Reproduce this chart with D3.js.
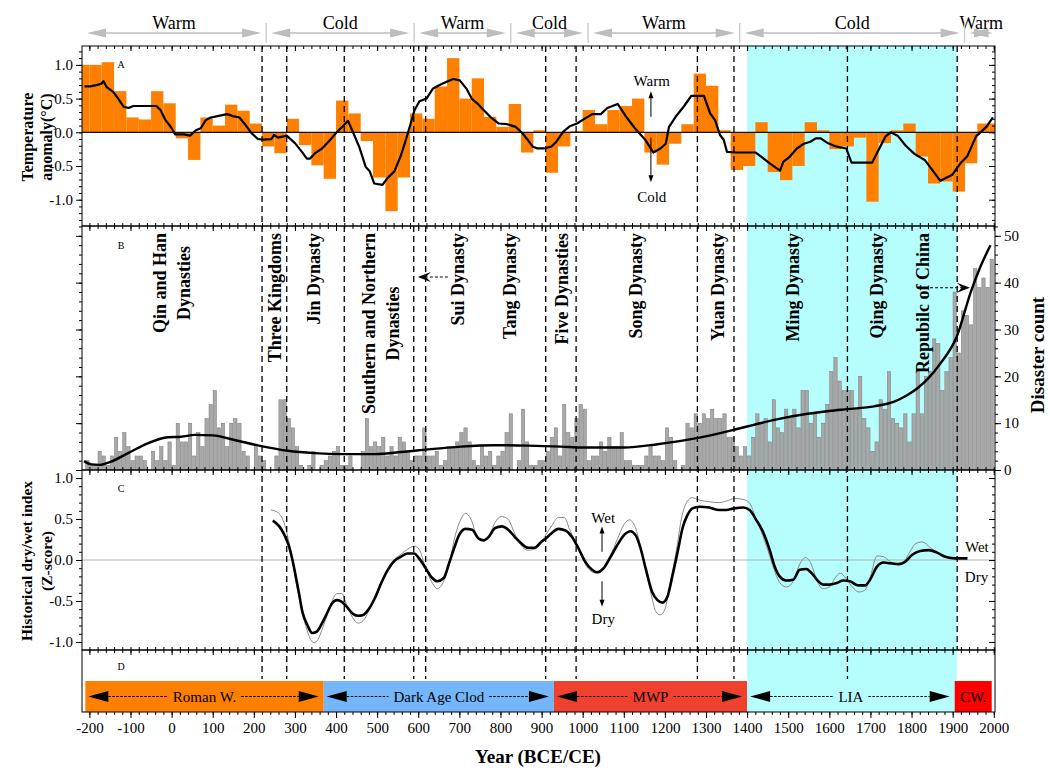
<!DOCTYPE html>
<html>
<head>
<meta charset="utf-8">
<script src="https://cdn.jsdelivr.net/npm/d3@7"></script>
<style>
  body { margin: 0; background: #fff; }
  svg { font-family: "Liberation Serif", "Times New Roman", serif; }
</style>
</head>
<body>
<div id="chart"></div>
<script>
// ---------- data ----------
// top row: warm / cold periods
const climateLabels = ["Warm", "Cold", "Warm", "Cold", "Warm", "Cold", "Warm"];
const climateBounds = [-218, 230, 590, 825, 1013, 1382, 1929, 2010];

// dynasty boundaries (dashed lines)
const dynastyLines = [220, 280, 420, 589, 618, 910, 984, 1279, 1368, 1644, 1911];
const cyanRange = [1400, 1910];

// panel A: 30-year temperature anomaly bars (start year) and smoothed curve
const tempBinStart = d3.range(-230, 2000, 30);
const tempBinValue = [1.0, 1.0, 1.04, 0.61, 0.22, 0.19, 0.61, 0.43, -0.09, -0.41,
  0.22, 0.10, 0.41, 0.32, 0.13, -0.21, -0.31, 0.20, -0.19, -0.49,
  -0.69, 0.47, 0.28, -0.13, -0.67, -1.17, -0.67, 0.28, 0.20, 0.68,
  1.10, 0.50, 0.80, 0.23, 0.08, 0.42, -0.30, 0.03, -0.60, -0.21,
  0.02, 0.33, 0.12, 0.33, 0.39, 0.50, -0.30, -0.48, -0.17, 0.12,
  0.87, 0.69, 0.03, -0.56, -0.50, 0.15, -0.59, -0.71, -0.50, 0.15,
  0.03, -0.25, -0.21, -0.08, -1.03, -0.16, 0.03, 0.13, -0.36, -0.76,
  -0.73, -0.88, -0.46, 0.13, 0.13];

const tempLineYear = [-212, -198, -183, -171, -166, -158, -142, -130, -117, -105, -93, -68, -37, -27, -15, -3, 9, 30, 45, 59,
  71, 83, 95, 112, 135, 149, 165, 177, 194, 210, 222, 243, 249, 259, 280, 300, 317, 329, 337, 349,
  366, 386, 403, 415, 429, 440, 456, 472, 482, 493, 513, 525, 542, 558, 570, 583, 591, 603, 620, 636,
  652, 669, 685, 701, 718, 730, 747, 759, 775, 796, 816, 837, 853, 866, 878, 890, 907, 924, 936, 953,
  969, 986, 1007, 1023, 1044, 1060, 1085, 1106, 1127, 1152, 1172, 1189, 1202, 1210, 1226, 1247, 1264, 1295, 1310, 1322,
  1334, 1343, 1351, 1372, 1421, 1434, 1455, 1480, 1488, 1504, 1521, 1538, 1554, 1567, 1579, 1596, 1616, 1641, 1654, 1704,
  1720, 1737, 1749, 1766, 1786, 1807, 1832, 1853, 1870, 1899, 1919, 1936, 1957, 1982, 1998];
const tempLineValue = [0.68, 0.68, 0.70, 0.72, 0.76, 0.67, 0.60, 0.50, 0.38, 0.36, 0.39, 0.39, 0.39, 0.33, 0.18, 0.09, -0.03, -0.03, -0.05, 0.03,
  0.06, 0.18, 0.22, 0.24, 0.27, 0.24, 0.22, 0.13, -0.01, -0.10, -0.11, -0.10, -0.04, -0.08, -0.05, -0.16, -0.29, -0.39, -0.39, -0.31,
  -0.24, -0.11, 0.01, 0.08, 0.17, 0.02, -0.21, -0.51, -0.58, -0.76, -0.78, -0.68, -0.58, -0.34, -0.11, 0.16, 0.33, 0.46, 0.50, 0.65,
  0.70, 0.75, 0.79, 0.77, 0.64, 0.50, 0.41, 0.33, 0.23, 0.13, 0.12, 0.08, -0.01, -0.11, -0.21, -0.24, -0.24, -0.21, -0.14, 0.01,
  0.09, 0.13, 0.21, 0.27, 0.27, 0.36, 0.42, 0.23, 0.06, -0.11, -0.30, -0.24, -0.17, 0.08, 0.23, 0.39, 0.54, 0.54, 0.28, 0.18,
  -0.04, -0.11, -0.29, -0.30, -0.30, -0.36, -0.46, -0.57, -0.44, -0.36, -0.24, -0.17, -0.14, -0.09, -0.09, -0.16, -0.21, -0.24, -0.45, -0.45,
  -0.26, -0.06, 0.00, -0.05, -0.20, -0.32, -0.41, -0.58, -0.72, -0.63, -0.46, -0.35, -0.06, 0.08, 0.22];

// panel B: decadal disaster counts and fitted curve
const disasterStart = d3.range(-210, 2000, 10);
const disasterCount = [2, 1, 1, 4, 3, 1, 3, 7, 4, 8, 5, 2, 3, 3, 2, 0, 4, 2, 5, 2,
  6, 1, 10, 6, 6, 10, 3, 8, 5, 11, 14, 17, 9, 10, 5, 10, 11, 10, 4, 3,
  0, 5, 3, 2, 0, 0, 3, 15, 15, 11, 9, 5, 1, 0, 1, 4,
  0, 1, 2, 3, 4, 5, 1, 1, 3, 0, 0, 4, 11, 5, 6, 5, 7, 3, 5, 3,
  7, 6, 4, 2, 3, 3, 9, 3, 3, 4, 1, 2, 5, 5, 6, 8, 9, 6, 2, 1,
  5, 3, 4, 1, 3, 4, 8, 12, 0, 2, 13, 6, 1, 1,
  2, 2, 4, 7, 9, 3, 14, 8, 7, 11, 14, 13, 2, 3, 3, 6, 4, 7, 5, 5,
  8, 2, 2, 1, 1, 1, 3, 5, 3, 3, 2, 9, 7, 2, 0, 1, 10, 9, 12, 10,
  12, 11, 13, 11, 11, 12, 7, 7, 5, 3, 5,
  3, 7, 12, 10, 11, 6, 15, 9, 8, 13, 11, 13, 9, 17, 17, 10, 12, 7, 10, 14,
  21, 24, 19, 17,
  17, 17, 13, 20, 11, 9, 4, 6, 15, 13, 21, 11, 10, 9, 12, 6, 12, 21, 12, 20,
  21, 28, 27, 17, 21, 24, 38,
  25, 34, 33, 31, 43, 39, 41, 39, 45];

const disasterFitYear = [-213, -195, -175, -147, -106, -58, -9, 23, 56, 100, 153, 218, 283, 347, 420, 493, 566, 623, 704, 785,
  866, 947, 1000, 1101, 1182, 1284, 1373, 1414, 1466, 1547, 1600, 1644, 1709, 1758, 1790, 1815, 1840, 1868, 1910, 1944, 1968, 1992];
const disasterFitValue = [1.9, 1.2, 1.1, 1.8, 3.6, 5.7, 7.0, 7.1, 7.5, 7.4, 6.4, 5.1, 4.1, 3.6, 3.4, 3.4, 3.9, 4.4, 5.0, 5.3,
  5.2, 5.0, 4.8, 4.8, 5.5, 6.9, 8.7, 9.6, 10.7, 12.0, 12.6, 13.0, 13.6, 14.6, 16.0, 17.5, 19.5, 22.5, 28.5, 38.0, 43.5, 48.0];

// panel C: dry/wet index, smoothed (black) and raw (grey)
const wetSmoothYear = [246, 262, 275, 286, 294, 302, 310, 318, 330, 342, 354, 366, 378, 390, 402, 414, 426, 442, 454, 466,
  478, 494, 510, 526, 542, 558, 574, 590, 602, 618, 634, 646, 662, 675, 687, 699, 715, 731, 747, 759,
  771, 787, 803, 819, 835, 851, 867, 883, 899, 912, 925, 941, 958, 974, 990, 1006, 1023, 1035, 1051, 1068,
  1084, 1100, 1116, 1129, 1141, 1153, 1169, 1182, 1194, 1206, 1218, 1231, 1243, 1255, 1267, 1284, 1308, 1332, 1349, 1369,
  1390, 1406, 1422, 1438, 1455, 1467, 1479, 1495, 1512, 1528, 1544, 1557, 1573, 1585, 1601, 1618, 1634, 1650, 1671, 1687,
  1699, 1716, 1732, 1748, 1769, 1785, 1801, 1821, 1842, 1862, 1882, 1907, 1936];
const wetSmoothValue = [0.48, 0.41, 0.30, 0.16, 0.0, -0.20, -0.41, -0.63, -0.79, -0.89, -0.87, -0.77, -0.65, -0.53, -0.49, -0.51, -0.57, -0.66, -0.68, -0.67,
  -0.61, -0.47, -0.28, -0.12, -0.01, 0.04, 0.08, 0.08, 0.02, -0.10, -0.22, -0.26, -0.22, -0.04, 0.14, 0.30, 0.38, 0.37, 0.26, 0.24,
  0.28, 0.39, 0.41, 0.37, 0.28, 0.20, 0.15, 0.15, 0.22, 0.27, 0.33, 0.38, 0.36, 0.28, 0.14, -0.02, -0.12, -0.15, -0.10, 0.04,
  0.18, 0.30, 0.35, 0.30, 0.14, -0.10, -0.39, -0.49, -0.52, -0.45, -0.20, 0.10, 0.39, 0.55, 0.63, 0.65, 0.64, 0.61, 0.61, 0.63,
  0.64, 0.61, 0.49, 0.35, 0.12, -0.08, -0.20, -0.25, -0.24, -0.12, -0.11, -0.16, -0.26, -0.30, -0.30, -0.28, -0.25, -0.26, -0.31, -0.31,
  -0.24, -0.08, -0.03, -0.04, -0.05, -0.02, 0.06, 0.11, 0.12, 0.09, 0.04, 0.02, 0.02];

const wetRawYear = [242, 258, 268, 278, 290, 302, 314, 326, 338, 346, 356, 368, 380, 392, 402, 414, 426, 440, 454, 466,
  480, 494, 510, 526, 542, 558, 574, 590, 602, 618, 634, 646, 660, 675, 690, 704, 715, 728, 742, 756,
  770, 787, 802, 818, 834, 850, 866, 882, 898, 912, 925, 941, 955, 970, 990, 1010, 1025, 1038, 1052, 1068,
  1084, 1100, 1114, 1128, 1141, 1155, 1168, 1178, 1188, 1200, 1212, 1228, 1240, 1255, 1266, 1284, 1308, 1332, 1350, 1370,
  1390, 1405, 1422, 1438, 1455, 1468, 1480, 1496, 1512, 1528, 1542, 1556, 1570, 1584, 1600, 1614, 1626, 1640, 1656, 1672,
  1686, 1700, 1716, 1732, 1748, 1764, 1780, 1796, 1810, 1826, 1846, 1866, 1886, 1907, 1936];
const wetRawValue = [0.61, 0.58, 0.52, 0.38, 0.10, -0.25, -0.55, -0.80, -0.97, -1.01, -0.97, -0.82, -0.65, -0.48, -0.41, -0.41, -0.55, -0.70, -0.77, -0.74,
  -0.62, -0.46, -0.27, -0.10, 0.01, 0.07, 0.13, 0.17, 0.13, -0.10, -0.28, -0.35, -0.28, -0.05, 0.30, 0.50, 0.57, 0.50, 0.30, 0.24,
  0.27, 0.46, 0.53, 0.50, 0.33, 0.18, 0.12, 0.13, 0.20, 0.32, 0.42, 0.52, 0.52, 0.35, 0.14, -0.08, -0.15, -0.16, -0.10, 0.06,
  0.25, 0.43, 0.49, 0.40, 0.16, -0.15, -0.45, -0.63, -0.67, -0.60, -0.30, 0.12, 0.50, 0.72, 0.76, 0.73, 0.71, 0.70, 0.72, 0.75,
  0.74, 0.70, 0.50, 0.30, 0.05, -0.15, -0.28, -0.33, -0.26, -0.05, 0.03, -0.05, -0.25, -0.35, -0.33, -0.22, -0.16, -0.22, -0.33, -0.39,
  -0.37, -0.20, 0.05, 0.04, -0.02, -0.05, -0.03, 0.10, 0.20, 0.22, 0.15, 0.08, 0.04, 0.03, 0.03];

// panel B dynasty labels (anchor year of each label block)
const dynastyLabels = [["Qin and Han", "Dynasties"], ["Three Kingdoms"], ["Jin Dynasty"],
  ["Southern and Northern", "Dynasties"], ["Sui Dynasty"], ["Tang Dynasty"], ["Five Dynasties"],
  ["Song Dynasty"], ["Yuan Dynasty"], ["Ming Dynasty"], ["Qing Dynasty"], ["Repubilc of China"]];
const dynastyYears = [0, 250, 345, 508, 697, 822, 950, 1128, 1329, 1512, 1714, 1826];

// panel D climate epochs
const epochLabels = ["Roman W.", "Dark Age Clod", "MWP", "LIA", "CW."];
const epochBounds = [-210, 370, 930, 1400, 1905, 1995];
const epochColors = ["#ff8000", "#74b6fa", "#f0412f", "#b6fdfd", "#ff0000"];

const yearTicks = d3.range(-200, 2001, 100);

// ---------- layout ----------
const width = 1050, height = 772;
const left = 82, right = 995;
const aTop = 46, aBot = 226, bBot = 470, cBot = 650, dBot = 712;

const x = d3.scaleLinear().domain([-218, 2003]).range([left, right]);
const yA = d3.scaleLinear().domain([-1.39, 1.28]).range([aBot, aTop]);
const yB = d3.scaleLinear().domain([0, 52.1]).range([bBot, aBot]);
const yC = d3.scaleLinear().domain([-1.098, 1.098]).range([cBot, bBot]);

const svg = d3.select("#chart").append("svg")
  .attr("width", width).attr("height", height);

const defs = svg.append("defs");
[["clipA", aTop, aBot], ["clipB", aBot, bBot], ["clipC", bBot, cBot]].forEach(([id, t, b]) => {
  defs.append("clipPath").attr("id", id).append("rect")
    .attr("x", left).attr("y", t).attr("width", right - left).attr("height", b - t);
});

// cyan LIA background
svg.append("rect")
  .attr("x", x(cyanRange[0])).attr("y", aTop)
  .attr("width", x(cyanRange[1]) - x(cyanRange[0])).attr("height", dBot - aTop)
  .attr("fill", "#b6fdfd");

// ---------- top warm/cold arrows ----------
const topG = svg.append("g");
const arrowY = 33, grey = "#bdbdbd";
climateLabels.forEach((lab, i) => {
  const x0 = Math.max(x(climateBounds[i]) + 5, left + 1);
  const x1 = x(climateBounds[i + 1]) - 5;
  topG.append("line").attr("x1", x0 + 10).attr("x2", x1 - 10)
    .attr("y1", arrowY).attr("y2", arrowY).attr("stroke", grey).attr("stroke-width", 1.6);
  topG.append("path").attr("fill", grey)
    .attr("d", `M${x0},${arrowY} L${x0 + 19},${arrowY - 4.5} L${x0 + 19},${arrowY + 4.5} Z`);
  topG.append("path").attr("fill", grey)
    .attr("d", `M${x1},${arrowY} L${x1 - 19},${arrowY - 4.5} L${x1 - 19},${arrowY + 4.5} Z`);
  topG.append("text").attr("x", (x0 + x1) / 2).attr("y", 28.5)
    .attr("text-anchor", "middle").attr("font-size", 18).text(lab);
  if (i > 0) {
    topG.append("line").attr("x1", x(climateBounds[i])).attr("x2", x(climateBounds[i]))
      .attr("y1", 23).attr("y2", 43).attr("stroke", "#c8c8c8").attr("stroke-width", 1.3);
  }
});

// ---------- panel A ----------
const gA = svg.append("g").attr("clip-path", "url(#clipA)");
gA.selectAll("rect").data(tempBinStart.map((s, i) => ({ s, v: tempBinValue[i] })))
  .join("rect")
  .attr("x", d => x(d.s))
  .attr("width", d => x(d.s + 30) - x(d.s))
  .attr("y", d => yA(Math.max(0, d.v)))
  .attr("height", d => Math.abs(yA(d.v) - yA(0)))
  .attr("fill", "#ff8000");
gA.append("line").attr("x1", left).attr("x2", right).attr("y1", yA(0)).attr("y2", yA(0))
  .attr("stroke", "#111").attr("stroke-width", 1.2);
gA.append("path")
  .datum(tempLineYear.map((yr, i) => [yr, tempLineValue[i]]))
  .attr("fill", "none").attr("stroke", "#000").attr("stroke-width", 2.2)
  .attr("stroke-linejoin", "round")
  .attr("d", d3.line().x(d => x(d[0])).y(d => yA(d[1])));

// ---------- panel B ----------
const gB = svg.append("g").attr("clip-path", "url(#clipB)");
gB.selectAll("rect").data(disasterStart.map((s, i) => ({ s, v: disasterCount[i] })))
  .join("rect")
  .attr("x", d => x(d.s) + 0.4)
  .attr("width", d => x(d.s + 10) - x(d.s) - 0.8)
  .attr("y", d => yB(d.v))
  .attr("height", d => yB(0) - yB(d.v))
  .attr("fill", "#a8a8a8").attr("stroke", "#7a7a7a").attr("stroke-width", 0.5);
gB.append("path")
  .datum(disasterFitYear.map((yr, i) => [yr, disasterFitValue[i]]))
  .attr("fill", "none").attr("stroke", "#000").attr("stroke-width", 2.4)
  .attr("d", d3.line().x(d => x(d[0])).y(d => yB(d[1])).curve(d3.curveMonotoneX));

// ---------- panel C ----------
const gC = svg.append("g").attr("clip-path", "url(#clipC)");
gC.append("line").attr("x1", left).attr("x2", right).attr("y1", yC(0)).attr("y2", yC(0))
  .attr("stroke", "#b0b0b0").attr("stroke-width", 1);
const lineC = d3.line().x(d => x(d[0])).y(d => yC(d[1])).curve(d3.curveMonotoneX);
gC.append("path").datum(wetRawYear.map((yr, i) => [yr, wetRawValue[i]]))
  .attr("fill", "none").attr("stroke", "#8a8a8a").attr("stroke-width", 1).attr("d", lineC);
gC.append("path").datum(wetSmoothYear.map((yr, i) => [yr, wetSmoothValue[i]]))
  .attr("fill", "none").attr("stroke", "#000").attr("stroke-width", 2.6).attr("d", lineC);

// ---------- panel D bands ----------
const gD = svg.append("g");
const bandTop = 681, bandBot = dBot, bandMid = 696.5;
epochLabels.forEach((lab, i) => {
  const x0 = x(epochBounds[i]), x1 = x(epochBounds[i + 1]);
  gD.append("rect").attr("x", x0).attr("y", bandTop).attr("width", x1 - x0)
    .attr("height", bandBot - bandTop).attr("fill", epochColors[i]);
  const t = gD.append("text").attr("x", (x0 + x1) / 2).attr("y", bandMid)
    .attr("dy", "0.35em").attr("text-anchor", "middle").attr("font-size", 15).text(lab);
  if (x1 - x0 < 60) return;
  const half = t.node().getComputedTextLength() / 2 + 5;
  const cx = (x0 + x1) / 2;
  const a0 = x0 + 3, a1 = x1 - 5;
  gD.append("path").attr("fill", "#000")
    .attr("d", `M${a0},${bandMid} L${a0 + 20},${bandMid - 5.5} L${a0 + 20},${bandMid + 5.5} Z`);
  gD.append("path").attr("fill", "#000")
    .attr("d", `M${a1},${bandMid} L${a1 - 20},${bandMid - 5.5} L${a1 - 20},${bandMid + 5.5} Z`);
  [[a0 + 20, cx - half], [cx + half, a1 - 20]].forEach(([p, q]) => {
    gD.append("line").attr("x1", p).attr("x2", q).attr("y1", bandMid).attr("y2", bandMid)
      .attr("stroke", "#000").attr("stroke-width", 1.1).attr("stroke-dasharray", "2.5,1.5");
  });
});

// ---------- dashed dynasty lines ----------
svg.append("g").selectAll("line").data(dynastyLines).join("line")
  .attr("x1", d => x(d)).attr("x2", d => x(d))
  .attr("y1", aTop).attr("y2", d => d === 1911 ? cBot : 679)
  .attr("stroke", "#000").attr("stroke-width", 1.3).attr("stroke-dasharray", "6,4");

// ---------- frames and axes ----------
const frame = svg.append("g").attr("fill", "none").attr("stroke", "#000").attr("stroke-width", 1);
[[aTop, aBot], [aBot, bBot], [bBot, cBot], [cBot, dBot]].forEach(([t, b]) => {
  frame.append("rect").attr("x", left).attr("y", t).attr("width", right - left).attr("height", b - t);
});

function styleAxis(g, size) {
  g.select(".domain").remove();
  g.selectAll("text").attr("font-size", size).attr("fill", "#000")
    .attr("font-family", '"Liberation Serif","Times New Roman",serif');
  g.selectAll("line").attr("stroke", "#000");
}
const fmt1 = d => d.toFixed(1);
const minorYears = d3.range(-200, 2001, 20);

// horizontal border ticks
[aTop, aBot, bBot, cBot].forEach(yy => {
  svg.append("g").attr("transform", `translate(0,${yy})`)
    .call(d3.axisBottom(x).tickValues(minorYears).tickSize(3).tickFormat(""))
    .call(styleAxis, 10);
  svg.append("g").attr("transform", `translate(0,${yy})`)
    .call(d3.axisBottom(x).tickValues(yearTicks).tickSize(5).tickFormat(""))
    .call(styleAxis, 10);
  if (yy !== aTop) {
    svg.append("g").attr("transform", `translate(0,${yy})`)
      .call(d3.axisTop(x).tickValues(minorYears).tickSize(3).tickFormat(""))
      .call(styleAxis, 10);
  }
});
// bottom year axis
svg.append("g").attr("transform", `translate(0,${dBot})`)
  .call(d3.axisBottom(x).tickValues(minorYears).tickSize(3).tickFormat(""))
  .call(styleAxis, 10);
svg.append("g").attr("transform", `translate(0,${dBot})`)
  .call(d3.axisBottom(x).tickValues(yearTicks).tickSize(6).tickPadding(4).tickFormat(d => d))
  .call(styleAxis, 15);

// panel A y axes
svg.append("g").attr("transform", `translate(${left},0)`)
  .call(d3.axisLeft(yA).tickValues(d3.range(-13, 13).map(d => d / 10)).tickSize(3).tickFormat(""))
  .call(styleAxis, 15);
svg.append("g").attr("transform", `translate(${left},0)`)
  .call(d3.axisLeft(yA).tickValues([-1, -0.5, 0, 0.5, 1]).tickSize(6).tickPadding(3).tickFormat(fmt1))
  .call(styleAxis, 15);
svg.append("g").attr("transform", `translate(${right},0)`)
  .call(d3.axisLeft(yA).tickValues(d3.range(-13, 13).map(d => d / 10)).tickSize(3).tickFormat(""))
  .call(styleAxis, 15);
svg.append("g").attr("transform", `translate(${right},0)`)
  .call(d3.axisLeft(yA).tickValues([-1, -0.5, 0, 0.5, 1]).tickSize(6).tickFormat(""))
  .call(styleAxis, 15);

// panel B y axes
svg.append("g").attr("transform", `translate(${left},0)`)
  .call(d3.axisLeft(yB).tickValues(d3.range(0, 53, 2)).tickSize(3).tickFormat(""))
  .call(styleAxis, 15);
svg.append("g").attr("transform", `translate(${left},0)`)
  .call(d3.axisLeft(yB).tickValues(d3.range(0, 51, 10)).tickSize(6).tickFormat(""))
  .call(styleAxis, 15);
svg.append("g").attr("transform", `translate(${right},0)`)
  .call(d3.axisRight(yB).tickValues(d3.range(0, 53, 2)).tickSize(3).tickFormat(""))
  .call(styleAxis, 15);
svg.append("g").attr("transform", `translate(${right},0)`)
  .call(d3.axisRight(yB).tickValues(d3.range(0, 51, 10)).tickSize(6).tickPadding(3))
  .call(styleAxis, 15);

// panel C y axes
svg.append("g").attr("transform", `translate(${left},0)`)
  .call(d3.axisLeft(yC).tickValues(d3.range(-10, 11).map(d => d / 10)).tickSize(3).tickFormat(""))
  .call(styleAxis, 15);
svg.append("g").attr("transform", `translate(${left},0)`)
  .call(d3.axisLeft(yC).tickValues([-1, -0.5, 0, 0.5, 1]).tickSize(6).tickPadding(3).tickFormat(fmt1))
  .call(styleAxis, 15);
svg.append("g").attr("transform", `translate(${right},0)`)
  .call(d3.axisLeft(yC).tickValues(d3.range(-10, 11).map(d => d / 10)).tickSize(3).tickFormat(""))
  .call(styleAxis, 15);
svg.append("g").attr("transform", `translate(${right},0)`)
  .call(d3.axisLeft(yC).tickValues([-1, -0.5, 0, 0.5, 1]).tickSize(6).tickFormat(""))
  .call(styleAxis, 15);

// ---------- panel letters ----------
[["A", 64], ["B", 245], ["C", 488], ["D", 666]].forEach(([l, yy]) => {
  svg.append("text").attr("x", 121).attr("y", yy).attr("dy", "0.35em")
    .attr("text-anchor", "middle").attr("font-size", 10).text(l);
});

// ---------- dynasty labels ----------
dynastyLabels.forEach((lines, i) => {
  const cx = x(dynastyYears[i]);
  const texts = lines.map(l => svg.append("text").text(l)
    .attr("font-size", 18).attr("font-weight", "bold").attr("text-anchor", "middle").attr("dy", "0.35em"));
  const maxLen = d3.max(texts, t => t.node().getComputedTextLength());
  const cy = 233 + maxLen / 2;
  texts.forEach((t, j) => {
    const lx = cx + (j - (lines.length - 1) / 2) * 24.5;
    t.attr("transform", `translate(${lx},${cy}) rotate(-90)`);
  });
});

// dashed pointer arrows in panel B
function pointer(fromYear, toYear, val) {
  const xa = x(fromYear), xb = x(toYear), yy = yB(val);
  const dir = xb > xa ? 1 : -1;
  svg.append("line").attr("x1", xa).attr("x2", xb - dir * 6).attr("y1", yy).attr("y2", yy)
    .attr("stroke", "#000").attr("stroke-width", 1.1).attr("stroke-dasharray", "3,2");
  svg.append("path").attr("fill", "#000")
    .attr("d", `M${xb},${yy} L${xb - dir * 13},${yy - 5} L${xb - dir * 8},${yy} L${xb - dir * 13},${yy + 5} Z`);
}
pointer(672, 599, 41.2);
pointer(1845, 1942, 38.9);

// ---------- small annotations ----------
function vArrow(year, y0, y1) {
  const xx = x(year);
  svg.append("line").attr("x1", xx).attr("x2", xx).attr("y1", y0).attr("y2", y1 - Math.sign(y1 - y0) * 5)
    .attr("stroke", "#000").attr("stroke-width", 1);
  const s = Math.sign(y1 - y0);
  svg.append("path").attr("fill", "#000")
    .attr("d", `M${xx},${y1} L${xx - 2.5},${y1 - s * 7} L${xx + 2.5},${y1 - s * 7} Z`);
}
function note(year, yy, txt, anchor) {
  svg.append("text").attr("x", x(year)).attr("y", yy).attr("dy", "0.35em")
    .attr("text-anchor", anchor || "middle").attr("font-size", 15).text(txt);
}
note(1168, yA(0.76), "Warm");
vArrow(1166, yA(0.23), yA(0.61));
note(1168, yA(-0.96), "Cold");
vArrow(1166, yA(-0.08), yA(-0.74));
note(1050, yC(0.52), "Wet");
vArrow(1047, yC(0.10), yC(0.41));
note(1050, yC(-0.72), "Dry");
vArrow(1047, yC(-0.26), yC(-0.57));
note(1959, yC(0.16), "Wet", "middle");
note(1958, yC(-0.21), "Dry", "middle");

// ---------- axis titles ----------
function vTitle(lines, xs, cy, size) {
  lines.forEach((l, j) => {
    svg.append("text").attr("transform", `translate(${xs[j]},${cy}) rotate(-90)`)
      .attr("dy", "0.35em").attr("text-anchor", "middle")
      .attr("font-size", size).attr("font-weight", "bold").text(l);
  });
}
vTitle(["Temperature", "anomaly(\u00b0C)"], [27, 46], 137, 16);
vTitle(["Historical dry/wet index", "(Z-score)"], [27, 47], 561, 15.5);
vTitle(["Disaster count"], [1037], 355, 19);

svg.append("text").attr("x", 538).attr("y", 763).attr("text-anchor", "middle")
  .attr("font-size", 19).attr("font-weight", "bold").text("Year (BCE/CE)");
</script>
</body>
</html>
